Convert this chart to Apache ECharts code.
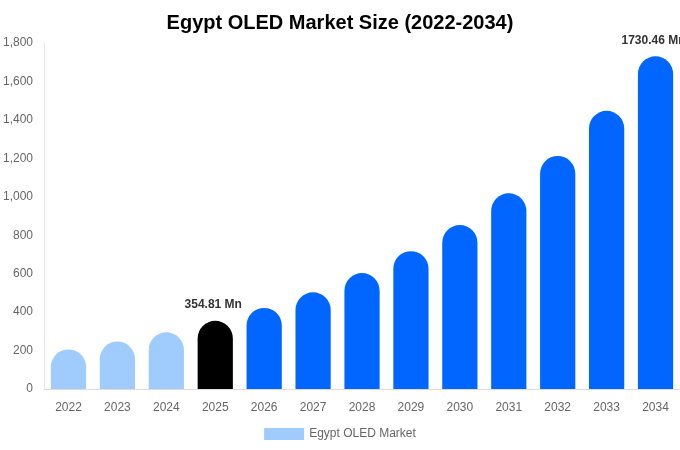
<!DOCTYPE html>
<html>
<head>
<meta charset="utf-8">
<script src="https://cdn.jsdelivr.net/npm/echarts@6/dist/echarts.min.js"></script>
<style>
  html, body { margin: 0; padding: 0; background: #fff; }
  #chart { width: 680px; height: 450px; }
</style>
</head>
<body>
<div id="chart"></div>
<script>
var years = ['2022', '2023', '2024', '2025', '2026', '2027', '2028', '2029', '2030', '2031', '2032', '2033', '2034'];
var marketSize = [206, 247, 295, 354.81, 422, 503, 603, 717, 853, 1018, 1212, 1447, 1730.46];
var labelled = ['2025', '2034'];

var chart = echarts.init(document.getElementById('chart'));

var barData = marketSize.map(function (v, i) {
  var y = +years[i];
  var color = y < 2025 ? '#a0cbfd' : (y === 2025 ? '#000000' : '#0066ff');
  var item = { value: v, itemStyle: { color: color } };
  if (labelled.indexOf(years[i]) >= 0) {
    item.label = {
      show: true,
      position: 'top',
      distance: 10,
      offset: [-2, 0],
      formatter: v.toFixed(2) + ' Mn',
      color: '#333',
      fontWeight: 'bold',
      fontSize: 12
    };
  }
  return item;
});

var option = {
  backgroundColor: '#ffffff',
  title: {
    text: 'Egypt OLED Market Size (2022-2034)',
    left: 'center',
    top: 8,
    textStyle: { fontSize: 20, fontWeight: 'bold', color: '#000', fontFamily: 'Liberation Sans, Arial, sans-serif' }
  },
  legend: {
    bottom: 5,
    icon: 'rect',
    itemWidth: 40,
    itemHeight: 12,
    data: [{ name: 'Egypt OLED Market', itemStyle: { color: '#a0cbfd' } }],
    textStyle: { color: '#666', fontSize: 12, fontFamily: 'Liberation Sans, Arial, sans-serif' }
  },
  grid: { left: 44, right: 0, top: 43, bottom: 61 },
  xAxis: {
    type: 'category',
    data: years,
    axisLine: { lineStyle: { color: '#ddd' } },
    axisTick: { show: false },
    axisLabel: { color: '#666', fontSize: 12, margin: 13, fontFamily: 'Liberation Sans, Arial, sans-serif' }
  },
  yAxis: {
    type: 'value',
    min: 0,
    max: 1800,
    interval: 200,
    axisLine: { show: true, lineStyle: { color: '#e6e6e6' } },
    axisTick: { show: false },
    splitLine: { show: false },
    axisLabel: {
      color: '#666',
      fontSize: 12,
      margin: 11,
      fontFamily: 'Liberation Sans, Arial, sans-serif',
      formatter: function (v) { return v.toLocaleString('en-US'); }
    }
  },
  series: [{
    name: 'Egypt OLED Market',
    type: 'bar',
    barWidth: '72%',
    itemStyle: { borderRadius: [18, 18, 0, 0] },
    data: barData
  }]
};

chart.setOption(option);
</script>
</body>
</html>
